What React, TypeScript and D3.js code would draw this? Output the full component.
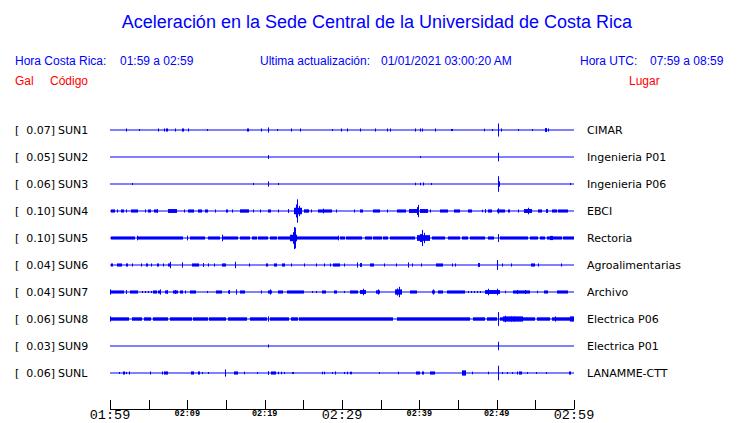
import * as d3 from 'd3';

// minutes since 01:59, 0..60
const tickMinutes = d3.range(0, 61, 5);
const bigLabels = [
  { m: 0, label: '01:59' },
  { m: 30, label: '02:29' },
  { m: 60, label: '02:59' },
];
const smallLabels = [
  { m: 10, label: '02:09' },
  { m: 20, label: '02:19' },
  { m: 40, label: '02:39' },
  { m: 50, label: '02:49' },
];

const codes = ['SUN1', 'SUN2', 'SUN3', 'SUN4', 'SUN5', 'SUN6', 'SUN7', 'SUN8', 'SUN9', 'SUNL'];
const gals = ['0.07', '0.05', '0.06', '0.10', '0.10', '0.04', '0.04', '0.06', '0.03', '0.06'];
const places = [
  'CIMAR', 'Ingenieria P01', 'Ingenieria P06', 'EBCI', 'Rectoria',
  'Agroalimentarias', 'Archivo', 'Electrica P06', 'Electrica P01', 'LANAMME-CTT',
];

// bursts: [start minute, end minute, relative amplitude]
const sun1: number[][] = [
  [2.11, 2.11, 0.12], [3.79, 3.79, 0.06], [6.25, 6.25, 0.12], [7.03, 7.03, 0.12], [7.25, 7.45, 0.12],
  [8.45, 8.45, 0.12], [9.35, 9.6, 0.12], [10.13, 10.13, 0.12], [12.59, 12.59, 0.06], [17.67, 17.67, 0.12],
  [17.89, 17.89, 0.12], [19.57, 19.57, 0.12], [20.47, 20.47, 0.2], [21.6, 21.75, 0.08], [23.45, 23.45, 0.12],
  [24.61, 24.61, 0.12], [28.75, 28.75, 0.06], [29.91, 29.91, 0.12], [30.69, 30.69, 0.12], [32.37, 32.37, 0.12],
  [34.31, 34.31, 0.12], [35.86, 35.86, 0.12], [36.25, 36.25, 0.12], [39.48, 39.48, 0.12], [40.13, 40.13, 0.12],
  [40.39, 40.39, 0.12], [42.0, 42.2, 0.12], [44.15, 44.3, 0.08], [48.3, 48.5, 0.1], [49.35, 49.35, 0.06],
  [50.13, 50.13, 0.5], [50.55, 50.75, 0.12], [52.7, 52.85, 0.06], [54.53, 54.53, 0.06], [56.2, 56.45, 0.15],
  [56.68, 56.68, 0.12],
];
const sun2: number[][] = [
  [20.47, 20.47, 0.15], [40.13, 40.13, 0.08], [50.13, 50.13, 0.33],
];
const sun3: number[][] = [
  [2.8, 2.8, 0.06], [18.5, 18.5, 0.06], [20.47, 20.47, 0.2], [21.77, 21.77, 0.06], [39.48, 39.48, 0.1],
  [40.13, 40.13, 0.1], [40.5, 40.65, 0.12], [41.55, 41.55, 0.06], [50.13, 50.13, 0.6], [50.2, 50.4, 0.2],
  [59.5, 59.65, 0.08],
];
const sun4: number[][] = [
  [0.13, 0.65, 0.12], [0.95, 0.95, 0.12], [1.42, 1.77, 0.12], [2.11, 2.11, 0.12], [2.72, 3.58, 0.12],
  [4.53, 4.53, 0.12], [4.96, 5.3, 0.12], [5.65, 6.08, 0.12], [6.1, 6.1, 0.15], [7.54, 8.62, 0.15],
  [9.53, 9.7, 0.12], [10.04, 10.82, 0.12], [11.42, 11.85, 0.12], [12.28, 12.72, 0.12], [13.58, 13.58, 0.12],
  [15.04, 15.3, 0.12], [15.82, 15.82, 0.12], [16.81, 17.97, 0.13], [18.49, 18.49, 0.12], [19.44, 19.44, 0.12],
  [20.39, 20.82, 0.12], [21.77, 21.77, 0.12], [23.06, 23.06, 0.15], [23.84, 24.78, 0.25], [24.22, 24.22, 0.9],
  [24.05, 24.05, 0.5], [24.4, 24.4, 0.4], [25.13, 25.73, 0.13], [25.99, 25.99, 0.12], [26.94, 28.66, 0.12],
  [27.5, 27.5, 0.18], [29.18, 29.18, 0.12], [31.59, 31.59, 0.12], [32.37, 32.72, 0.12], [34.05, 34.96, 0.12],
  [35.78, 35.78, 0.12], [37.11, 38.32, 0.12], [38.66, 39.66, 0.15], [39.87, 39.87, 0.47], [39.7, 39.7, 0.3],
  [40.09, 41.16, 0.15], [41.38, 41.38, 0.12], [42.67, 43.75, 0.12], [44.44, 45.22, 0.12], [46.34, 46.85, 0.12],
  [48.06, 48.06, 0.1], [48.49, 48.49, 0.15], [48.92, 49.35, 0.12], [50.09, 51.08, 0.12], [50.13, 50.13, 0.2],
  [51.42, 51.72, 0.12], [52.8, 52.8, 0.12], [53.49, 54.61, 0.15], [54.09, 54.09, 0.25], [55.39, 55.82, 0.12],
  [56.34, 56.6, 0.15], [57.11, 57.8, 0.12], [57.97, 59.27, 0.12],
];
const sun5: number[][] = [
  [0.13, 3.23, 0.12], [3.45, 3.45, 0.18], [3.66, 9.48, 0.12], [9.91, 9.91, 0.18], [10.34, 12.28, 0.12],
  [12.72, 14.22, 0.12], [14.44, 14.44, 0.25], [14.66, 16.59, 0.12], [16.81, 18.1, 0.12], [18.32, 18.97, 0.12],
  [19.18, 20.47, 0.12], [20.69, 21.55, 0.12], [21.77, 23.28, 0.12], [23.28, 24.14, 0.25], [23.75, 23.75, 0.85],
  [23.92, 23.92, 0.8], [23.6, 23.6, 0.45], [24.14, 29.53, 0.12], [29.44, 29.44, 0.18], [29.74, 30.39, 0.12],
  [30.47, 32.54, 0.12], [32.97, 33.84, 0.12], [34.05, 35.13, 0.12], [35.34, 35.99, 0.12], [36.21, 39.44, 0.12],
  [39.66, 41.38, 0.22], [40.1, 40.5, 0.3], [40.3, 40.3, 0.62], [40.55, 40.55, 0.4], [41.59, 43.32, 0.12],
  [43.75, 45.26, 0.12], [45.47, 46.34, 0.12], [46.55, 48.49, 0.12], [48.92, 49.7, 0.12], [50.13, 50.13, 0.3],
  [50.43, 54.09, 0.12], [54.31, 55.39, 0.12], [55.6, 56.25, 0.12], [56.47, 58.41, 0.12], [56.9, 57.3, 0.16],
  [58.62, 60, 0.12],
];
const sun6: number[][] = [
  [0.13, 0.39, 0.12], [0.91, 1.51, 0.12], [2.11, 2.28, 0.12], [2.8, 2.8, 0.12], [4.01, 4.18, 0.12],
  [4.7, 4.96, 0.12], [5.26, 5.47, 0.12], [6.03, 6.34, 0.12], [6.9, 6.9, 0.12], [7.54, 7.89, 0.12],
  [7.72, 7.72, 0.25], [9.35, 9.35, 0.2], [10.65, 11.51, 0.12], [11.98, 11.98, 0.15], [12.63, 12.63, 0.12],
  [13.49, 13.49, 0.12], [14.44, 14.96, 0.12], [16.16, 16.16, 0.25], [17.97, 17.97, 0.12], [20.13, 20.47, 0.12],
  [21.25, 21.55, 0.12], [22.28, 22.63, 0.12], [23.36, 23.36, 0.12], [25.09, 25.09, 0.12], [26.59, 26.59, 0.12],
  [27.72, 27.72, 0.12], [28.49, 28.49, 0.12], [28.88, 29.74, 0.12], [30.26, 30.26, 0.12], [31.9, 31.9, 0.2],
  [32.33, 32.63, 0.15], [33.62, 34.18, 0.12], [35.47, 35.47, 0.12], [36.94, 36.94, 0.12], [38.49, 38.49, 0.2],
  [39.01, 39.01, 0.12], [40.22, 40.22, 0.12], [42.16, 43.1, 0.12], [44.18, 44.18, 0.12], [44.61, 44.61, 0.12],
  [47.54, 47.89, 0.15], [50.04, 50.04, 0.38], [50.65, 50.65, 0.12], [51.85, 51.85, 0.12], [54.44, 54.96, 0.12],
  [55.3, 55.3, 0.12], [58.28, 58.28, 0.12],
];
const sun7: number[][] = [
  [0.04, 0.04, 0.2], [0.13, 1.85, 0.12], [2.03, 2.03, 0.15], [2.59, 3.58, 0.12], [4.1, 4.1, 0.08],
  [4.5, 4.5, 0.08], [4.9, 4.9, 0.08], [5.3, 5.3, 0.08], [5.6, 6.03, 0.12], [6.25, 6.6, 0.12],
  [6.42, 6.42, 0.2], [7.15, 7.5, 0.12], [7.33, 7.33, 0.15], [8.1, 8.75, 0.12], [8.41, 8.41, 0.15],
  [9.05, 9.48, 0.12], [9.7, 9.7, 0.12], [10.34, 11.12, 0.12], [12.5, 12.5, 0.08], [13.71, 14.44, 0.12],
  [15.2, 15.5, 0.12], [15.39, 15.39, 0.15], [16.29, 16.29, 0.2], [16.81, 17.46, 0.12], [19.53, 19.53, 0.12],
  [20.39, 20.91, 0.12], [20.65, 20.65, 0.2], [21.68, 22.41, 0.12], [22.84, 25.13, 0.12], [26.08, 26.08, 0.08],
  [26.59, 26.59, 0.08], [27.37, 27.89, 0.12], [29.01, 29.35, 0.12], [30.3, 30.3, 0.08], [31.03, 32.11, 0.12],
  [32.37, 33.06, 0.15], [32.72, 32.72, 0.25], [34.35, 34.91, 0.13], [34.61, 34.61, 0.2], [36.85, 37.72, 0.2],
  [37.33, 37.33, 0.4], [37.1, 37.1, 0.28], [38.75, 39.66, 0.12], [41.6, 42.0, 0.12], [41.81, 41.81, 0.2],
  [42.46, 43.1, 0.12], [43.53, 45.9, 0.12], [46.3, 46.3, 0.08], [46.7, 46.7, 0.08], [47.1, 47.1, 0.08],
  [47.5, 47.5, 0.08], [47.9, 47.9, 0.08], [48.49, 50.47, 0.15], [48.92, 48.92, 0.25], [50.0, 50.0, 0.25],
  [51.08, 51.08, 0.1], [52.16, 54.31, 0.12], [52.6, 52.6, 0.15], [53.6, 53.6, 0.15], [55.17, 55.17, 0.1],
  [56.16, 56.6, 0.12], [57.76, 59.27, 0.12],
];
const sun8: number[][] = [
  [0.0, 0.13, 0.2], [0.13, 2.46, 0.13], [2.8, 4.18, 0.13], [4.44, 5.3, 0.13], [5.6, 7.46, 0.13],
  [7.76, 10.56, 0.13], [10.78, 12.63, 0.13], [12.8, 14.96, 0.13], [15.22, 17.67, 0.13], [18.1, 20.26, 0.13],
  [20.39, 20.39, 0.2], [20.69, 23.15, 0.13], [23.41, 24.27, 0.13], [24.44, 36.64, 0.13], [37.07, 46.55, 0.13],
  [47.0, 48.49, 0.13], [48.71, 50.0, 0.13], [50.13, 50.13, 0.53], [50.43, 54.96, 0.13], [50.86, 53.45, 0.2],
  [51.08, 51.08, 0.25], [51.9, 51.9, 0.2], [52.3, 52.3, 0.2], [55.17, 56.9, 0.13], [57.11, 60, 0.13],
  [57.5, 57.5, 0.2], [59.48, 60, 0.2],
];
const sun9: number[][] = [
  [20.47, 20.47, 0.12], [50.13, 50.13, 0.33], [50.2, 50.3, 0.1],
];
const sunl: number[][] = [
  [1.21, 1.21, 0.05], [1.72, 1.94, 0.12], [2.03, 2.03, 0.08], [2.5, 2.5, 0.12], [5.22, 5.22, 0.12],
  [6.77, 6.77, 0.12], [7.03, 7.46, 0.12], [10.47, 10.91, 0.12], [11.42, 11.64, 0.12], [11.94, 11.94, 0.08],
  [12.72, 12.72, 0.06], [14.87, 14.87, 0.28], [15.99, 16.51, 0.12], [17.37, 17.37, 0.1], [19.05, 19.05, 0.06],
  [20.47, 20.47, 0.15], [20.82, 21.42, 0.12], [21.68, 21.68, 0.1], [22.07, 22.07, 0.1], [22.54, 22.54, 0.08],
  [23.49, 23.49, 0.08], [23.71, 23.71, 0.06], [27.46, 27.46, 0.1], [27.67, 27.67, 0.1], [28.75, 28.75, 0.06],
  [29.09, 29.27, 0.12], [30.22, 30.22, 0.08], [30.69, 30.69, 0.1], [30.99, 30.99, 0.1], [31.21, 31.21, 0.1],
  [34.83, 34.83, 0.06], [37.28, 37.28, 0.1], [39.57, 40.13, 0.12], [40.39, 40.65, 0.12], [41.38, 42.03, 0.12],
  [45.47, 45.99, 0.2], [46.85, 46.85, 0.1], [48.92, 48.92, 0.1], [50.13, 50.13, 0.56], [50.73, 50.73, 0.08],
  [51.38, 51.38, 0.06], [51.94, 51.94, 0.08], [52.59, 52.8, 0.12], [52.93, 53.3, 0.12], [53.88, 53.88, 0.06],
  [55.04, 55.04, 0.06], [56.34, 56.34, 0.06], [59.35, 59.57, 0.12],
];
const traces = [sun1, sun2, sun3, sun4, sun5, sun6, sun7, sun8, sun9, sunl];

const W = 740;
const H = 423;
const BLUE = '#0000ff';
const RED = '#ff0000';
const SANS = '"Liberation Sans", Arial, Helvetica, sans-serif';
const LABEL = '"DejaVu Sans", sans-serif';
const MONO = '"Liberation Mono", "DejaVu Sans Mono", monospace';

export default function App() {
  const x = d3.scaleLinear().domain([0, 60]).range([110, 574]);
  const y = d3.scaleBand().domain(codes).range([116.5, 386.5]);
  const amp = d3.scaleLinear().domain([0, 1]).range([0, 13]);
  const axisY = 409;

  return (
    <svg width={W} height={H} style={{ position: 'absolute', left: 0, top: 0, background: '#fff' }}>
      <text x={377} y={28} textAnchor="middle" fill={BLUE} fontFamily={SANS} fontSize={18}>
        Aceleración en la Sede Central de la Universidad de Costa Rica
      </text>

      <g fontFamily={SANS} fontSize={12} fill={BLUE}>
        <text x={15} y={65}>Hora Costa Rica:</text>
        <text x={120} y={65}>01:59 a 02:59</text>
        <text x={260} y={65}>Ultima actualización:</text>
        <text x={381} y={65}>01/01/2021 03:00:20 AM</text>
        <text x={580} y={65}>Hora UTC:</text>
        <text x={650} y={65}>07:59 a 08:59</text>
      </g>
      <g fontFamily={SANS} fontSize={12} fill={RED}>
        <text x={15} y={85}>Gal</text>
        <text x={50} y={85}>Código</text>
        <text x={629} y={85}>Lugar</text>
      </g>

      {codes.map((c, i) => {
        const cy = (y(c) as number) + y.bandwidth() / 2;
        return (
          <g key={c}>
            <g fontFamily={LABEL} fontSize={11} fill="#000">
              <text x={15} y={cy + 4}>[</text>
              <text x={55} y={cy + 4} textAnchor="end">{gals[i]}]</text>
              <text x={58} y={cy + 4}>{c}</text>
              <text x={587} y={cy + 4}>{places[i]}</text>
            </g>
            <line x1={x(0)} x2={x(60)} y1={cy} y2={cy} stroke={BLUE} strokeWidth={1} />
            {traces[i].map(([t0, t1, a], j) => {
              const x0 = Math.round(x(t0));
              const w = Math.max(1, Math.round(x(t1)) - x0 + (t1 > t0 ? 0 : 1));
              const h = Math.max(1, amp(a));
              return <rect key={j} x={x0} y={cy - h} width={w} height={h * 2} fill={BLUE} />;
            })}
          </g>
        );
      })}

      <g stroke="#000" strokeWidth={1}>
        <line x1={x(0)} x2={x(60)} y1={axisY + 0.5} y2={axisY + 0.5} />
        {tickMinutes.map(m => (
          <line key={m} x1={Math.round(x(m)) + 0.5} x2={Math.round(x(m)) + 0.5} y1={axisY - 9} y2={axisY + 0.5} />
        ))}
      </g>
      <g fontFamily={MONO} fill="#000">
        {bigLabels.map(d => (
          <text key={d.m} x={x(d.m)} y={419} fontSize={13.5} textAnchor="middle">{d.label}</text>
        ))}
        {smallLabels.map(d => (
          <text key={d.m} x={x(d.m)} y={416} fontSize={8.5} fontWeight="bold" textAnchor="middle">{d.label}</text>
        ))}
      </g>
    </svg>
  );
}
